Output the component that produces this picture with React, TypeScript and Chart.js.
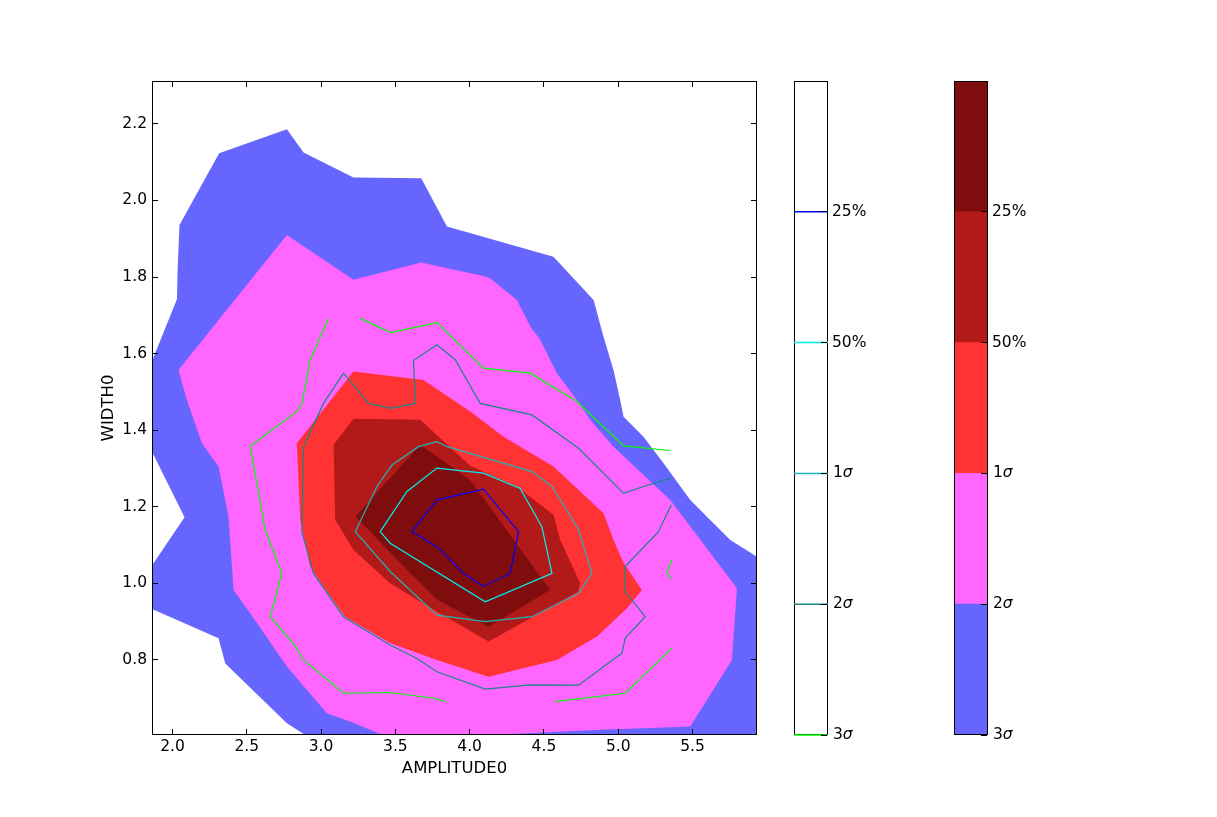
import { useEffect, useRef } from "react";
import { Chart, registerables } from "chart.js";

Chart.register(...registerables);

type Pt = [number, number];

const FONT = "'DejaVu Sans', 'Liberation Sans', sans-serif";
const FONT_SIZE = 15.5;
const TITLE_SIZE = 16.5;

// Axis ranges and tick values
const xRange: Pt = [1.862, 5.934];
const yRange: Pt = [0.604, 2.312];
const xTickValues = [2.0, 2.5, 3.0, 3.5, 4.0, 4.5, 5.0, 5.5];
const yTickValues = [0.8, 1.0, 1.2, 1.4, 1.6, 1.8, 2.0, 2.2];

// Confidence levels, from the outermost to the innermost
const levelLabels = ["3σ", "2σ", "1σ", "50%", "25%"];
const fillColors = ["#6666ff", "#ff66ff", "#ff3333", "#b21a1a", "#800d0d"];
const lineColors = ["#00ff00", "#1a8585", "#22b4b4", "#00f0f0", "#0000ff"];

// Filled density regions (AMPLITUDE0, WIDTH0), one outline per level
const region3Sigma: Pt[] = [
  [1.85, 1.569], [2.03, 1.742], [2.034, 1.816], [2.047, 1.936], [2.314, 2.123],
  [2.77, 2.186], [2.882, 2.125], [3.218, 2.06], [3.674, 2.058], [3.847, 1.932],
  [4.564, 1.853], [4.834, 1.74], [4.901, 1.644], [4.968, 1.557], [5.013, 1.479],
  [5.036, 1.435], [5.17, 1.383], [5.305, 1.314], [5.485, 1.218], [5.597, 1.174],
  [5.754, 1.113], [5.95, 1.066], [5.95, 0.59], [2.949, 0.59], [2.77, 0.635],
  [2.355, 0.791], [2.31, 0.857], [1.85, 0.935], [1.85, 1.04], [2.081, 1.173],
  [1.85, 1.353],
];
const region2Sigma: Pt[] = [
  [2.04, 1.557], [2.77, 1.91], [3.218, 1.793], [3.674, 1.838], [3.802, 1.827],
  [4.093, 1.803], [4.138, 1.797], [4.318, 1.74], [4.408, 1.671], [4.475, 1.636],
  [4.587, 1.549], [4.722, 1.479], [4.811, 1.427], [4.968, 1.357], [5.35, 1.218],
  [5.799, 0.987], [5.765, 0.8], [5.485, 0.626], [4.886, 0.618], [4.239, 0.606],
  [4.239, 0.59], [3.499, 0.59], [3.218, 0.636], [3.039, 0.661], [2.77, 0.783],
  [2.523, 0.922], [2.411, 0.983], [2.377, 1.174], [2.31, 1.305], [2.198, 1.366],
  [2.097, 1.479],
];
const region1Sigma: Pt[] = [
  [3.218, 1.553], [3.689, 1.531], [4.004, 1.449], [4.228, 1.383], [4.564, 1.305],
  [4.901, 1.183], [4.968, 1.113], [5.036, 1.053], [5.159, 0.983], [5.059, 0.935],
  [4.857, 0.861], [4.587, 0.8], [4.408, 0.783], [4.127, 0.756], [3.78, 0.8],
  [3.465, 0.844], [3.162, 0.913], [3.016, 0.992], [2.927, 1.044], [2.86, 1.166],
  [2.837, 1.366],
];
const region50: Pt[] = [
  [3.218, 1.43], [3.667, 1.427], [4.004, 1.307], [4.318, 1.253], [4.564, 1.179],
  [4.61, 1.113], [4.744, 1.0], [4.731, 0.978], [4.127, 0.848], [3.757, 0.931],
  [3.465, 1.0], [3.218, 1.087], [3.095, 1.166], [3.084, 1.362],
];
const region25: Pt[] = [
  [3.667, 1.362], [4.004, 1.27], [4.542, 0.983], [4.127, 0.887], [3.78, 0.957],
  [3.578, 1.035], [3.252, 1.166], [3.23, 1.174],
];
const filledRegions = [region3Sigma, region2Sigma, region1Sigma, region50, region25];

// Contour lines of the second sample
const line3SigmaA: Pt[] = [
  [3.05, 1.692], [2.927, 1.584], [2.871, 1.47], [2.837, 1.449], [2.523, 1.359],
  [2.624, 1.14], [2.736, 1.026], [2.658, 0.913], [2.837, 0.831], [2.871, 0.804],
  [3.151, 0.713], [3.465, 0.715], [3.757, 0.7], [3.836, 0.691],
];
const line3SigmaB: Pt[] = [
  [3.263, 1.692], [3.47, 1.655], [3.78, 1.681], [4.093, 1.562], [4.408, 1.549],
  [4.722, 1.475], [5.036, 1.359], [5.35, 1.347],
];
const line3SigmaC: Pt[] = [[5.361, 1.061], [5.328, 1.026], [5.357, 1.011]];
const line3SigmaD: Pt[] = [[4.576, 0.691], [5.047, 0.713], [5.361, 0.831]];
const line2Sigma: Pt[] = [
  [5.357, 1.205], [5.271, 1.135], [5.047, 1.044], [5.047, 0.978], [5.182, 0.913],
  [5.047, 0.857], [5.025, 0.818], [4.733, 0.734], [4.408, 0.735], [4.105, 0.724],
  [3.78, 0.769], [3.645, 0.804], [3.465, 0.839], [3.151, 0.913], [2.949, 1.026],
  [2.871, 1.135], [2.882, 1.357], [3.016, 1.47], [3.151, 1.549], [3.319, 1.47],
  [3.465, 1.457], [3.634, 1.47], [3.622, 1.582], [3.78, 1.623], [3.903, 1.584],
  [4.071, 1.47], [4.419, 1.44], [4.733, 1.353], [5.036, 1.235], [5.17, 1.253],
  [5.357, 1.275],
];
const line1Sigma: Pt[] = [
  [3.23, 1.135], [3.376, 1.253], [3.477, 1.309], [3.656, 1.357], [3.78, 1.37],
  [3.847, 1.357], [4.419, 1.292], [4.554, 1.253], [4.733, 1.14], [4.823, 1.026],
  [4.733, 0.974], [4.419, 0.913], [4.105, 0.9], [3.78, 0.917], [3.465, 1.031],
  [3.23, 1.135],
];
const line50: Pt[] = [
  [3.398, 1.135], [3.578, 1.24], [3.78, 1.301], [4.093, 1.288], [4.34, 1.248],
  [4.486, 1.148], [4.554, 1.026], [4.105, 0.952], [3.465, 1.105], [3.398, 1.135],
];
const line25: Pt[] = [
  [3.611, 1.135], [3.78, 1.218], [4.093, 1.246], [4.329, 1.135], [4.273, 1.026],
  [4.093, 0.992], [3.959, 1.026], [3.78, 1.096], [3.611, 1.135],
];
const contourLines: { pts: Pt[]; level: number }[] = [
  { pts: line3SigmaA, level: 0 },
  { pts: line3SigmaB, level: 0 },
  { pts: line3SigmaC, level: 0 },
  { pts: line3SigmaD, level: 0 },
  { pts: line2Sigma, level: 1 },
  { pts: line1Sigma, level: 2 },
  { pts: line50, level: 3 },
  { pts: line25, level: 4 },
];

const PAGE_H = 817;
const AREA_TOP = 81;
const AREA_BOTTOM = 735;
const TICK_LEN = 5;

const crisp = (v: number) => Math.floor(v) + 0.5;

function strokeFrame(ctx: CanvasRenderingContext2D, area: any) {
  const { left, right, top, bottom } = area;
  ctx.save();
  ctx.strokeStyle = "#000";
  ctx.lineWidth = 1;
  ctx.strokeRect(crisp(left), crisp(top), Math.round(right - left) - 1, Math.round(bottom - top) - 1);
  ctx.restore();
}

// Filled regions painted under the line datasets, clipped to the plot area
const regionFillPlugin = {
  id: "regionFill",
  beforeDatasetsDraw(chart: any) {
    const { ctx, chartArea, scales } = chart;
    const { x, y } = scales;
    ctx.save();
    ctx.beginPath();
    ctx.rect(chartArea.left, chartArea.top, chartArea.right - chartArea.left, chartArea.bottom - chartArea.top);
    ctx.clip();
    filledRegions.forEach((poly, i) => {
      ctx.beginPath();
      poly.forEach(([vx, vy], j) => {
        const px = x.getPixelForValue(vx);
        const py = y.getPixelForValue(vy);
        if (j === 0) ctx.moveTo(px, py);
        else ctx.lineTo(px, py);
      });
      ctx.closePath();
      ctx.fillStyle = fillColors[i];
      ctx.fill();
    });
    ctx.restore();
  },
};

// Axes frame with inward tick marks on all four sides
const frameTicksPlugin = {
  id: "frameTicks",
  afterDraw(chart: any) {
    const { ctx, chartArea, scales } = chart;
    const { left, right, top, bottom } = chartArea;
    const { x, y } = scales;
    strokeFrame(ctx, chartArea);
    ctx.save();
    ctx.strokeStyle = "#000";
    ctx.lineWidth = 1;
    ctx.beginPath();
    xTickValues.forEach((v) => {
      const px = crisp(x.getPixelForValue(v));
      ctx.moveTo(px, bottom);
      ctx.lineTo(px, bottom - TICK_LEN - 1);
      ctx.moveTo(px, top);
      ctx.lineTo(px, top + TICK_LEN + 1);
    });
    yTickValues.forEach((v) => {
      const py = crisp(y.getPixelForValue(v));
      ctx.moveTo(left, py);
      ctx.lineTo(left + TICK_LEN + 1, py);
      ctx.moveTo(right, py);
      ctx.lineTo(right - TICK_LEN - 1, py);
    });
    ctx.stroke();
    ctx.restore();
  },
};

function MainPlot() {
  const ref = useRef<HTMLCanvasElement | null>(null);
  useEffect(() => {
    if (!ref.current) return;
    const width = 780;
    const tickFont = { family: FONT, size: FONT_SIZE };
    const titleFont = { family: FONT, size: TITLE_SIZE };
    const chart = new Chart(ref.current, {
      type: "scatter",
      data: {
        datasets: contourLines.map(({ pts, level }) => ({
          data: pts.map(([x, y]) => ({ x, y })),
          showLine: true,
          borderColor: lineColors[level],
          backgroundColor: lineColors[level],
          borderWidth: 1.2,
          pointRadius: 0,
          pointHoverRadius: 0,
          fill: false,
          tension: 0,
        })),
      },
      options: {
        animation: false,
        responsive: false,
        events: [],
        layout: { padding: { left: 0, top: AREA_TOP, right: width - 757, bottom: 0 } },
        plugins: { legend: { display: false }, tooltip: { enabled: false } },
        scales: {
          x: {
            type: "linear",
            min: xRange[0],
            max: xRange[1],
            afterBuildTicks: (s: any) => {
              s.ticks = xTickValues.map((value) => ({ value }));
            },
            afterFit: (s: any) => {
              s.height = PAGE_H - AREA_BOTTOM;
            },
            grid: { display: false, drawTicks: false },
            border: { display: false },
            ticks: {
              color: "#000",
              font: tickFont,
              padding: 3,
              maxRotation: 0,
              autoSkip: false,
              callback: (v: any) => Number(v).toFixed(1),
            },
            title: {
              display: true,
              text: "AMPLITUDE0",
              color: "#000",
              font: titleFont,
              padding: { top: 0, bottom: 38.8 },
            },
          },
          y: {
            type: "linear",
            min: yRange[0],
            max: yRange[1],
            afterBuildTicks: (s: any) => {
              s.ticks = yTickValues.map((value) => ({ value }));
            },
            afterFit: (s: any) => {
              s.width = 152;
            },
            grid: { display: false, drawTicks: false },
            border: { display: false },
            ticks: {
              color: "#000",
              font: tickFont,
              padding: 5,
              autoSkip: false,
              callback: (v: any) => Number(v).toFixed(1),
            },
            title: {
              display: true,
              text: "WIDTH0",
              color: "#000",
              font: titleFont,
              padding: { top: 98.6, bottom: 0 },
            },
          },
        },
      },
      plugins: [regionFillPlugin, frameTicksPlugin],
    } as any);
    return () => chart.destroy();
  }, []);
  return (
    <canvas
      ref={ref}
      width={780}
      height={PAGE_H}
      style={{ position: "absolute", left: 0, top: 0, display: "block" }}
    />
  );
}

function drawLevelLabel(ctx: CanvasRenderingContext2D, text: string, x: number, y: number) {
  ctx.textBaseline = "middle";
  ctx.textAlign = "left";
  ctx.fillStyle = "#000";
  const m = text.match(/^(\d+)(σ)$/);
  if (m) {
    ctx.font = `${FONT_SIZE}px ${FONT}`;
    ctx.fillText(m[1], x + 1, y);
    const w = ctx.measureText(m[1]).width;
    ctx.font = `italic ${FONT_SIZE}px ${FONT}`;
    ctx.fillText(m[2], x + 1 + w, y);
  } else {
    ctx.font = `${FONT_SIZE}px ${FONT}`;
    ctx.fillText(text, x, y);
  }
}

// Right-hand tick marks and level labels of a colour bar
function drawColorBarTicks(chart: any) {
  const { ctx, chartArea, scales } = chart;
  const { right } = chartArea;
  const y = scales.y;
  ctx.save();
  ctx.strokeStyle = "#000";
  ctx.lineWidth = 1;
  ctx.beginPath();
  levelLabels.forEach((_, i) => {
    const py = crisp(y.getPixelForValue(i));
    ctx.moveTo(right - 1, py);
    ctx.lineTo(right - 1 - TICK_LEN - 1, py);
  });
  ctx.stroke();
  levelLabels.forEach((label, i) => {
    drawLevelLabel(ctx, label, right + 4, y.getPixelForValue(i));
  });
  ctx.restore();
}

// Filled bar: frame over the colour blocks
const filledBarPlugin = {
  id: "filledBarFrame",
  afterDraw(chart: any) {
    strokeFrame(chart.ctx, chart.chartArea);
    drawColorBarTicks(chart);
  },
};

// Line bar: frame under the level lines
const lineBarPlugin = {
  id: "lineBarFrame",
  beforeDatasetsDraw(chart: any) {
    strokeFrame(chart.ctx, chart.chartArea);
  },
  afterDraw(chart: any) {
    drawColorBarTicks(chart);
  },
};

function ColorBar({ left, width, mode }: { left: number; width: number; mode: "fill" | "lines" }) {
  const ref = useRef<HTMLCanvasElement | null>(null);
  useEffect(() => {
    if (!ref.current) return;
    const barLeft = 794 - 780;
    const barRight = 828 - 780;
    const common = {
      animation: false,
      responsive: false,
      events: [],
      layout: {
        padding: { left: barLeft, right: width - barRight, top: AREA_TOP, bottom: PAGE_H - AREA_BOTTOM },
      },
      plugins: { legend: { display: false }, tooltip: { enabled: false } },
    };
    const config: any =
      mode === "fill"
        ? {
            type: "bar",
            data: {
              labels: ["level"],
              datasets: fillColors.map((c) => ({
                data: [1],
                backgroundColor: c,
                borderWidth: 0,
                barPercentage: 1,
                categoryPercentage: 1,
              })),
            },
            options: {
              ...common,
              scales: {
                x: { display: false, stacked: true },
                y: { display: false, stacked: true, min: 0, max: levelLabels.length },
              },
            },
            plugins: [filledBarPlugin],
          }
        : {
            type: "scatter",
            data: {
              datasets: lineColors.map((c, i) => ({
                data: [
                  { x: 0, y: i },
                  { x: 1, y: i },
                ],
                showLine: true,
                borderColor: c,
                backgroundColor: c,
                borderWidth: 1.5,
                pointRadius: 0,
                fill: false,
                clip: 4,
              })),
            },
            options: {
              ...common,
              scales: {
                x: { type: "linear", display: false, min: 0, max: 1 },
                y: { type: "linear", display: false, min: 0, max: levelLabels.length },
              },
            },
            plugins: [lineBarPlugin],
          };
    const chart = new Chart(ref.current, config);
    return () => chart.destroy();
  }, [left, width, mode]);
  return (
    <canvas
      ref={ref}
      width={width}
      height={PAGE_H}
      style={{ position: "absolute", left, top: 0, display: "block" }}
    />
  );
}

export default function App() {
  return (
    <div style={{ position: "absolute", left: 0, top: 0, width: 1217, height: PAGE_H, background: "#fff" }}>
      <MainPlot />
      <ColorBar left={780} width={160} mode="lines" />
      <ColorBar left={940} width={277} mode="fill" />
    </div>
  );
}
